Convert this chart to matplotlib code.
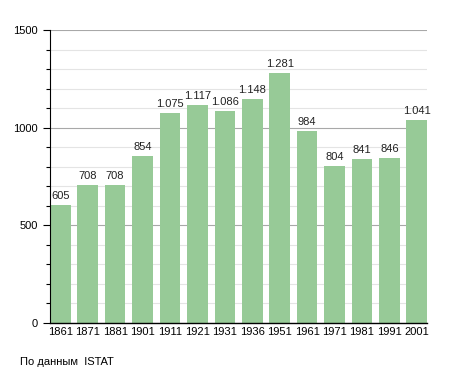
import matplotlib.pyplot as plt
from matplotlib.ticker import MultipleLocator

# dati censimenti
anni = ['1861', '1871', '1881', '1901', '1911', '1921', '1931',
        '1936', '1951', '1961', '1971', '1981', '1991', '2001']
abitanti = [605, 708, 708, 854, 1075, 1117, 1086,
            1148, 1281, 984, 804, 841, 846, 1041]

plt.rcParams['font.family'] = ['Liberation Sans', 'DejaVu Sans']

fig = plt.figure(figsize=(4.55, 3.73), dpi=100)
ax = fig.add_axes([0.1099, 0.134, 0.8286, 0.7855])

x = range(len(anni))
ax.bar(x, abitanti, width=0.75, color='#97ca97', zorder=2)

for i, v in enumerate(abitanti):
    testo = f'{v:,}'.replace(',', '.')
    ax.text(i, v + 20, testo, ha='center', va='bottom', fontsize=8, color='#222222')

ax.set_xlim(-0.375, len(anni) - 0.625)
ax.set_ylim(0, 1500)
ax.set_xticks(list(x))
ax.set_xticklabels(anni, fontsize=8)
ax.yaxis.set_major_locator(MultipleLocator(500))
ax.yaxis.set_minor_locator(MultipleLocator(100))
ax.tick_params(axis='y', which='major', labelsize=8, length=5, width=0.8)
ax.tick_params(axis='y', which='minor', length=3, width=0.8)
ax.tick_params(axis='x', length=0, pad=3)

ax.grid(axis='y', which='major', color='#a8a8a8', linewidth=0.8, zorder=0)
ax.grid(axis='y', which='minor', color='#e4e4e4', linewidth=0.8, zorder=0)

for lato in ['top', 'right']:
    ax.spines[lato].set_visible(False)
ax.spines['left'].set_linewidth(0.8)
ax.spines['bottom'].set_linewidth(1.0)

fig.text(20 / 455, 1 - 362 / 373, 'По данным  ISTAT', fontsize=8, va='center')

fig.savefig('out.png', dpi=100)
